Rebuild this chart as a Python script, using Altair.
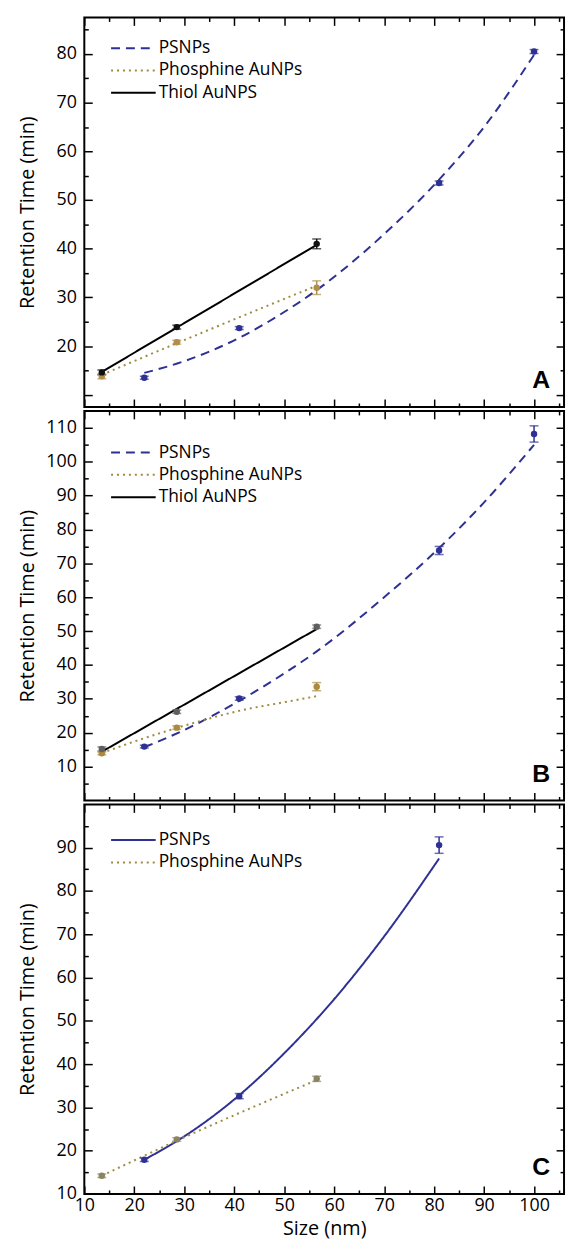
import altair as alt
import pandas as pd

# ---------------- data ----------------
names3 = ["PSNPs", "Phosphine AuNPs", "Thiol AuNPS"]
names2 = ["PSNPs", "Phosphine AuNPs"]

au_size = [13.5, 28.5, 56.5]        # AuNP sizes (nm)
ps_size = [22, 41, 81, 100]         # PSNP sizes (nm)

# Panel A
a_ps_rt = [13.5, 23.7, 53.5, 80.5]
a_ps_err = [0.3, 0.3, 0.4, 0.4]
a_ph_rt = [13.8, 20.8, 32.0]
a_ph_err = [0.5, 0.4, 1.4]
a_th_rt = [14.6, 23.9, 41.0]
a_th_err = [0.5, 0.4, 1.0]
a_ps_fit_x = [22, 30, 41, 50, 56.5, 70, 81, 90, 100]
a_ps_fit_y = [14.5, 16.9, 21.7, 27.0, 31.5, 43.0, 54.2, 65.0, 79.8]
a_ph_fit_x = [13.5, 28.5, 56.5]
a_ph_fit_y = [14.1, 20.6, 32.4]
a_th_fit_x = [13.5, 56.5]
a_th_fit_y = [14.7, 40.8]

# Panel B
b_ps_rt = [15.9, 30.1, 73.8, 108.2]
b_ps_err = [0.4, 0.5, 1.2, 2.4]
b_ph_rt = [13.9, 21.5, 33.6]
b_ph_err = [0.4, 0.5, 1.2]
b_th_rt = [15.2, 26.2, 51.3]
b_th_err = [0.6, 0.5, 0.5]
b_ps_fit_x = [22, 30, 41, 50, 56.5, 70, 81, 90, 100]
b_ps_fit_y = [15.7, 20.8, 29.4, 37.5, 44.0, 60.0, 74.5, 88.0, 105.0]
b_ph_fit_x = [13.5, 20, 28.5, 35, 42, 50, 56.5]
b_ph_fit_y = [14.0, 17.4, 21.4, 24.2, 26.8, 29.0, 30.8]
b_th_fit_x = [13.5, 56.5]
b_th_fit_y = [14.4, 50.6]

# Panel C
c_ps_size = [22, 41, 81]
c_ps_rt = [17.9, 32.6, 90.6]
c_ps_err = [0.4, 0.6, 1.9]
c_ph_rt = [14.2, 22.6, 36.6]
c_ph_err = [0.4, 0.4, 0.6]
c_ps_fit_x = [22, 30, 41, 50, 60, 70, 81]
c_ps_fit_y = [17.9, 23.3, 32.8, 42.5, 55.0, 69.5, 87.5]
c_ph_fit_x = [13.5, 28.5, 56.5]
c_ph_fit_y = [14.2, 22.3, 36.3]

x_label_values = [10, 20, 30, 40, 50, 60, 70, 80, 90, 100]
x_tick_values = [10, 15, 20, 25, 30, 35, 40, 45, 50, 55, 60, 65, 70, 75, 80, 85, 90, 95, 100, 105]
a_label_values = [20, 30, 40, 50, 60, 70, 80]
a_tick_values = [10, 15, 20, 25, 30, 35, 40, 45, 50, 55, 60, 65, 70, 75, 80, 85]
b_label_values = [10, 20, 30, 40, 50, 60, 70, 80, 90, 100, 110]
b_tick_values = [5, 10, 15, 20, 25, 30, 35, 40, 45, 50, 55, 60, 65, 70, 75, 80, 85, 90, 95, 100, 105, 110]
c_label_values = [10, 20, 30, 40, 50, 60, 70, 80, 90]
c_tick_values = [15, 20, 25, 30, 35, 40, 45, 50, 55, 60, 65, 70, 75, 80, 85, 90, 95]

# ---------------- styling ----------------
W, H = 484, 393
X_DOMAIN = [10, 106]
FONT = "Open Sans"
BLUE = "#2e3192"
OLIVE = "#9e8b3e"

TICK_SIZE = {"condition": {"test": "datum.value % 10 === 0", "value": 8}, "value": 4}


def tick_axis(orient, offset, values):
    return alt.Axis(orient=orient, offset=offset, values=values, labels=False,
                    title=None, domain=False, grid=False, tickSize=TICK_SIZE,
                    tickColor="black", tickWidth=1.5)


def make_points(groups):
    rows = []
    for name, xs, ys, es in groups:
        for x, y, e in zip(xs, ys, es):
            rows.append({"series": name, "x": x, "y": y, "err": e})
    return pd.DataFrame(rows)


def make_fits(groups):
    rows = []
    for name, xs, ys in groups:
        for x, y in zip(xs, ys):
            rows.append({"series": name, "x": x, "y": y})
    return pd.DataFrame(rows)


def panel(pts, fits, names, y_domain, y_labels, y_ticks, dashes, line_colors,
          point_colors, letter, legend_y, show_x):
    xs = alt.Scale(domain=X_DOMAIN, nice=False, zero=False)
    ys = alt.Scale(domain=y_domain, nice=False, zero=False)
    leg = alt.Legend(title=None, orient="none", legendX=26, legendY=legend_y,
                     symbolType="stroke", symbolSize=2025, symbolStrokeWidth=2,
                     labelFont=FONT, labelFontSize=17.5, labelColor="black",
                     labelOffset=2, clipHeight=20, rowPadding=2.5, padding=0)
    if show_x:
        x_axis = alt.Axis(orient="bottom", values=x_label_values, ticks=False,
                          tickSize=0, domain=False, grid=False, labelPadding=3,
                          labelFlush=False, labelFontSize=18, title="Size (nm)",
                          titleFontSize=20, titleFontWeight="normal", titlePadding=4)
    else:
        x_axis = None
    y_axis = alt.Axis(orient="left", values=y_labels, ticks=False, tickSize=0,
                      domain=False, grid=False, labelPadding=8, labelFontSize=18,
                      labelFlush=False, title="Retention Time (min)", titleFontSize=20,
                      titleFontWeight="normal", titleX=-47, titleY=H / 2)

    stroke_scale = alt.Scale(domain=names, range=line_colors)
    dash_scale = alt.Scale(domain=names, range=dashes)
    color_scale = alt.Scale(domain=names, range=point_colors)

    lines = alt.Chart(fits).mark_line(strokeWidth=2, interpolate="monotone").encode(
        x=alt.X("x:Q", scale=xs, axis=x_axis),
        y=alt.Y("y:Q", scale=ys, axis=y_axis),
        stroke=alt.Stroke("series:N", scale=stroke_scale, legend=leg),
        strokeDash=alt.StrokeDash("series:N", scale=dash_scale, legend=leg),
    )

    base = alt.Chart(pts).transform_calculate(
        lo="datum.y - datum.err", hi="datum.y + datum.err")
    rules = base.mark_rule(strokeWidth=1.5).encode(
        x=alt.X("x:Q", scale=xs, axis=tick_axis("top", -H, x_tick_values)),
        y=alt.Y("lo:Q", scale=ys, axis=tick_axis("right", -W, y_ticks)),
        y2="hi:Q",
        color=alt.Color("series:N", scale=color_scale, legend=None),
    )
    cap_lo = base.mark_tick(orient="horizontal", size=9, thickness=1.5).encode(
        x=alt.X("x:Q", scale=xs, axis=None),
        y=alt.Y("lo:Q", scale=ys, axis=None),
        color=alt.Color("series:N", scale=color_scale, legend=None),
    )
    cap_hi = base.mark_tick(orient="horizontal", size=9, thickness=1.5).encode(
        x=alt.X("x:Q", scale=xs, axis=None),
        y=alt.Y("hi:Q", scale=ys, axis=None),
        color=alt.Color("series:N", scale=color_scale, legend=None),
    )
    points = alt.Chart(pts).mark_circle(size=42, opacity=1).encode(
        x=alt.X("x:Q", scale=xs, axis=tick_axis("bottom", -H, x_tick_values)),
        y=alt.Y("y:Q", scale=ys, axis=tick_axis("left", -W, y_ticks)),
        color=alt.Color("series:N", scale=color_scale, legend=None),
    )
    letter_layer = alt.Chart(pd.DataFrame({"t": [letter]})).mark_text(
        font="Liberation Sans", fontSize=25, fontWeight="bold", align="right",
        baseline="middle", color="black").encode(
        text="t:N", x=alt.value(W - 14), y=alt.value(H - 27))

    return alt.layer(lines, rules, cap_lo, cap_hi, points, letter_layer).resolve_axis(
        x="independent", y="independent").properties(width=W, height=H)


DASH = [9, 6]
DOT = [2, 4]
SOLID = [1, 0]

pa = panel(
    make_points([("PSNPs", ps_size, a_ps_rt, a_ps_err),
                 ("Phosphine AuNPs", au_size, a_ph_rt, a_ph_err),
                 ("Thiol AuNPS", au_size, a_th_rt, a_th_err)]),
    make_fits([("PSNPs", a_ps_fit_x, a_ps_fit_y),
               ("Phosphine AuNPs", a_ph_fit_x, a_ph_fit_y),
               ("Thiol AuNPS", a_th_fit_x, a_th_fit_y)]),
    names3, [7.5, 87.5], a_label_values, a_tick_values,
    [DASH, DOT, SOLID], [BLUE, OLIVE, "#000000"],
    [BLUE, "#b08f4c", "#111111"], "A", 21, False)

pb = panel(
    make_points([("PSNPs", ps_size, b_ps_rt, b_ps_err),
                 ("Phosphine AuNPs", au_size, b_ph_rt, b_ph_err),
                 ("Thiol AuNPS", au_size, b_th_rt, b_th_err)]),
    make_fits([("PSNPs", b_ps_fit_x, b_ps_fit_y),
               ("Phosphine AuNPs", b_ph_fit_x, b_ph_fit_y),
               ("Thiol AuNPS", b_th_fit_x, b_th_fit_y)]),
    names3, [0, 115], b_label_values, b_tick_values,
    [DASH, DOT, SOLID], [BLUE, OLIVE, "#000000"],
    [BLUE, "#a98a3f", "#5f5f5f"], "B", 32, False)

pc = panel(
    make_points([("PSNPs", c_ps_size, c_ps_rt, c_ps_err),
                 ("Phosphine AuNPs", au_size, c_ph_rt, c_ph_err)]),
    make_fits([("PSNPs", c_ps_fit_x, c_ps_fit_y),
               ("Phosphine AuNPs", c_ph_fit_x, c_ph_fit_y)]),
    names2, [10, 100], c_label_values, c_tick_values,
    [SOLID, DOT], [BLUE, OLIVE],
    [BLUE, "#8a8462"], "C", 26, True)

chart = alt.vconcat(pa, pb, pc, spacing=0).resolve_scale(
    x="independent", y="independent", color="independent",
    stroke="independent", strokeDash="independent").resolve_legend(
    color="independent", stroke="independent", strokeDash="independent").properties(
    padding={"left": 9, "top": 2, "right": 2, "bottom": 2}).configure_view(
    stroke="black", strokeWidth=2).configure_axis(
    labelFont=FONT, titleFont=FONT, labelColor="black", titleColor="black")

chart.save("out.html", embed_options={"renderer": "svg", "actions": False})
